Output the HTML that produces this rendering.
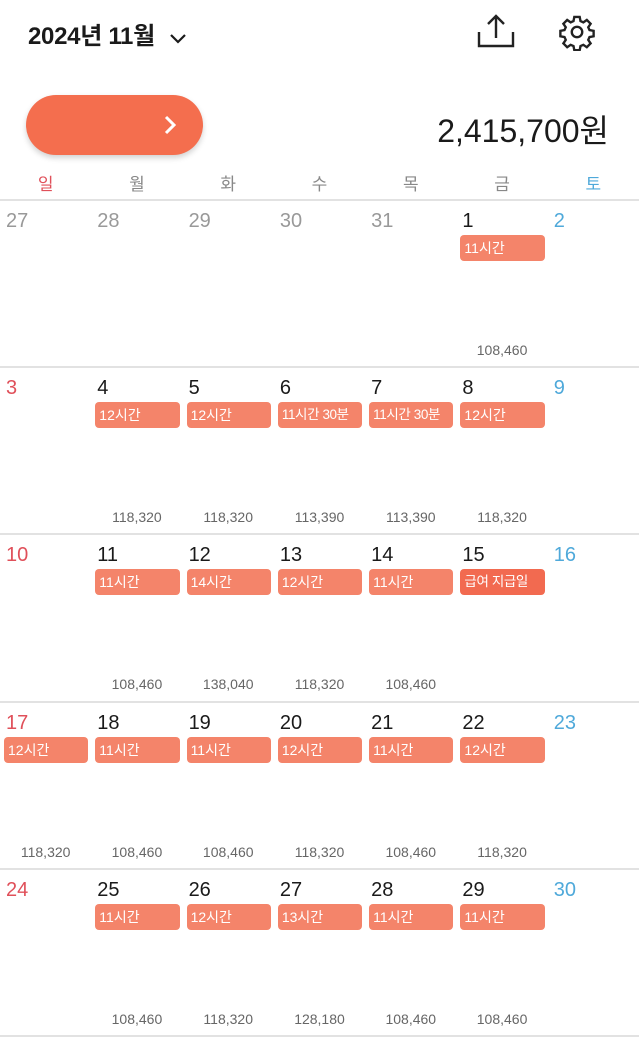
<!DOCTYPE html>
<html><head><meta charset="utf-8">
<style>
*{margin:0;padding:0;box-sizing:border-box}
body{width:639px;height:1040px;background:#fff;font-family:"Liberation Sans","Noto Sans CJK KR",sans-serif;position:relative;overflow:hidden;color:#1a1a1a}
.abs{position:absolute}
.title{left:28px;top:16px;font-size:24px;font-weight:bold;letter-spacing:-0.3px}
.pill{left:26px;top:95px;width:177px;height:60px;border-radius:30px;background:#F46E4E;box-shadow:0 3px 6px rgba(0,0,0,0.18)}
.total{right:30px;top:106px;font-size:32px;color:#1a1a1a}
.wd{top:170px;width:91.3px;text-align:center;font-size:17px;color:#888}
.line{left:0;width:639px;height:2px;background:#e2e2e2}
.dn{font-size:20px}
.badge{height:26px;border-radius:4px;background:#F4846A;color:#fff;font-size:14px;line-height:26px;padding-left:4px;white-space:nowrap;overflow:hidden}
.amt{width:91.3px;text-align:center;font-size:14px;color:#666}
</style></head><body>
<div class="abs title">2024년 11월 <svg width="22" height="14" viewBox="0 0 20 14" style="vertical-align:middle;margin-left:6px"><path d="M3 4 L10 11 L17 4" fill="none" stroke="#1a1a1a" stroke-width="2.2"/></svg></div>
<svg class="abs" style="left:476px;top:12px" width="40" height="38" viewBox="0 0 40 38"><path d="M20 26 V4 M12 12 L20 4 L28 12" fill="none" stroke="#222" stroke-width="2.4"/><path d="M3 20 V34 H37 V20" fill="none" stroke="#222" stroke-width="2.4"/></svg>
<svg class="abs" style="left:558px;top:13px" width="38" height="38" viewBox="0 0 24 24"><path fill="none" stroke="#222" stroke-width="1.5" d="M10.3 2.5h3.4l.5 2.6 1.8.8 2.2-1.5 2.4 2.4-1.5 2.2.8 1.8 2.6.5v3.4l-2.6.5-.8 1.8 1.5 2.2-2.4 2.4-2.2-1.5-1.8.8-.5 2.6h-3.4l-.5-2.6-1.8-.8-2.2 1.5-2.4-2.4 1.5-2.2-.8-1.8-2.6-.5v-3.4l2.6-.5.8-1.8-1.5-2.2 2.4-2.4 2.200 1.5 1.8-.8z"/><circle cx="12" cy="12" r="3.3" fill="none" stroke="#222" stroke-width="1.5"/></svg>
<div class="abs pill"><svg style="position:absolute;left:137px;top:20px" width="14" height="20" viewBox="0 0 14 20"><path d="M3 2 L11 10 L3 18" fill="none" stroke="#fff" stroke-width="3"/></svg></div>
<div class="abs total">2,415,700원</div>
<div id="cal"></div>
<script>
const weekdays=["일","월","화","수","목","금","토"];
const dayNums=[27,28,29,30,31,1,2,3,4,5,6,7,8,9,10,11,12,13,14,15,16,17,18,19,20,21,22,23,24,25,26,27,28,29,30];
const badges=["","","","","","11시간","","","12시간","12시간","11시간 30분","11시간 30분","12시간","","","11시간","14시간","12시간","11시간","급여 지급일","","12시간","11시간","11시간","12시간","11시간","12시간","","","11시간","12시간","13시간","11시간","11시간",""];
const amounts=["","","","","","108,460","","","118,320","118,320","113,390","113,390","118,320","","","108,460","138,040","118,320","108,460","","","118,320","108,460","108,460","118,320","108,460","118,320","","","108,460","118,320","128,180","108,460","108,460",""];
const cal=document.getElementById('cal');
const colW=639/7, top0=200, rowH=167.2;
weekdays.forEach((w,i)=>{
  const d=document.createElement('div');
  d.className='abs wd';
  d.style.left=(i*colW)+'px';
  d.style.color=i==0?'#E0505A':(i==6?'#4FA9DA':'#888');
  d.textContent=w;
  
  
  cal.appendChild(d);
});
for(let r=0;r<=5;r++){
  const l=document.createElement('div');
  l.className='abs line';
  l.style.top=(top0+r*rowH-1)+'px';
  
  
  cal.appendChild(l);
}
dayNums.forEach((n,k)=>{
  const r=Math.floor(k/7), c=k%7;
  const x=c*colW, y=top0+r*rowH;
  const cell=document.createElement('div');
  cell.className='abs';
  cell.style.left=x+'px';cell.style.top=y+'px';cell.style.width=colW+'px';cell.style.height=rowH+'px';
  
  
  const dn=document.createElement('div');
  dn.className='abs dn';
  dn.style.left='6px';dn.style.top='10px';
  dn.style.color=k<5?'#999':(c==0?'#E0505A':(c==6?'#4FA9DA':'#1a1a1a'));
  dn.textContent=n;
  
  
  cell.appendChild(dn);
  if(badges[k]){
    const b=document.createElement('div');
    b.className='abs badge';
    b.style.left='4px';b.style.top='35px';b.style.width=(colW-7)+'px';
    if(badges[k]==='급여 지급일'){b.style.background='#F26A50';b.style.fontSize='12.5px';}
    if(badges[k].length>4){b.style.fontSize='13.5px';b.style.letterSpacing='-0.4px';}
    b.textContent=badges[k];
    
    
    cell.appendChild(b);
  }
  if(amounts[k]){
    const a=document.createElement('div');
    a.className='abs amt';
    a.style.left='0px';a.style.top='142px';
    a.textContent=amounts[k];
    
    
    cell.appendChild(a);
  }
  cal.appendChild(cell);
});
</script>
</body></html>
